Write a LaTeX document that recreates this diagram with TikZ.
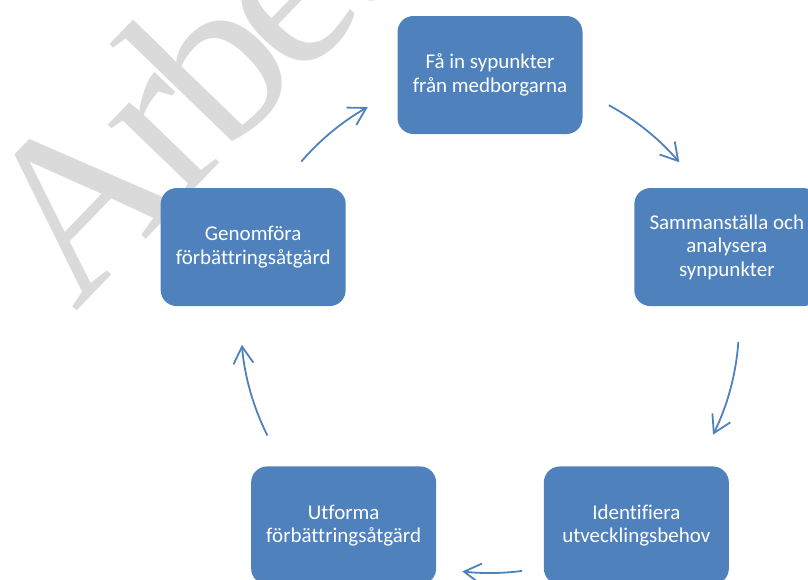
\documentclass[tikz,border=0pt]{standalone}
\usepackage{fontspec}
\setmainfont{Carlito}[Ligatures=NoCommon]
\newfontfamily\markfont{Liberation Serif}[LetterSpace=-6]
\usetikzlibrary{arrows.meta}

\definecolor{stageblue}{RGB}{79,129,189}
\definecolor{markgray}{RGB}{218,218,218}

\tikzstyle{stage} = [rectangle, rounded corners=16pt, fill=stageblue, text=white, minimum width=185pt, minimum height=118pt, inner sep=0pt, align=center, font=\fontsize{21}{23.5}\selectfont]
\tikzstyle{cycle arrow} = [draw=stageblue, line width=1.8pt, -{Straight Barb[length=17pt,width=20pt]}]

\begin{document}
\begin{tikzpicture}[x=1pt,y=1pt]
       \useasboundingbox (0,0) rectangle (808,-579);
       \clip (0,0) rectangle (808,-579);
       % watermark behind the cycle
       \node[font=\markfont\fontsize{232}{232}\selectfont, text=markgray, rotate=46, anchor=base west, inner sep=0pt] (mark) at (75,-313) {Arbet};
       \coordinate (c) at (490,-324);
       \foreach \ang/\name/\txt in {90/get/{Få in sypunkter\\från medborgarna}, 18/sum/{Sammanställa och\\analysera\\synpunkter}, -54/need/{Identifiera\\utvecklingsbehov}, -126/plan/{Utforma\\förbättringsåtgärd}, 162/act/{Genomföra\\förbättringsåtgärd}} {
           \node[stage] (\name) at ([shift={(\ang:249pt)}]c) {\txt};
       }
       \foreach \sa/\ea in {139.3/119.4, 61.5/40.5, -4.1/-26.4, -82.6/-96.4, 206.6/184.8} {
           \draw[cycle arrow] ([shift={(\sa:249pt)}]c) arc[start angle=\sa, end angle=\ea, radius=249pt];
       }
\end{tikzpicture}
\end{document}
